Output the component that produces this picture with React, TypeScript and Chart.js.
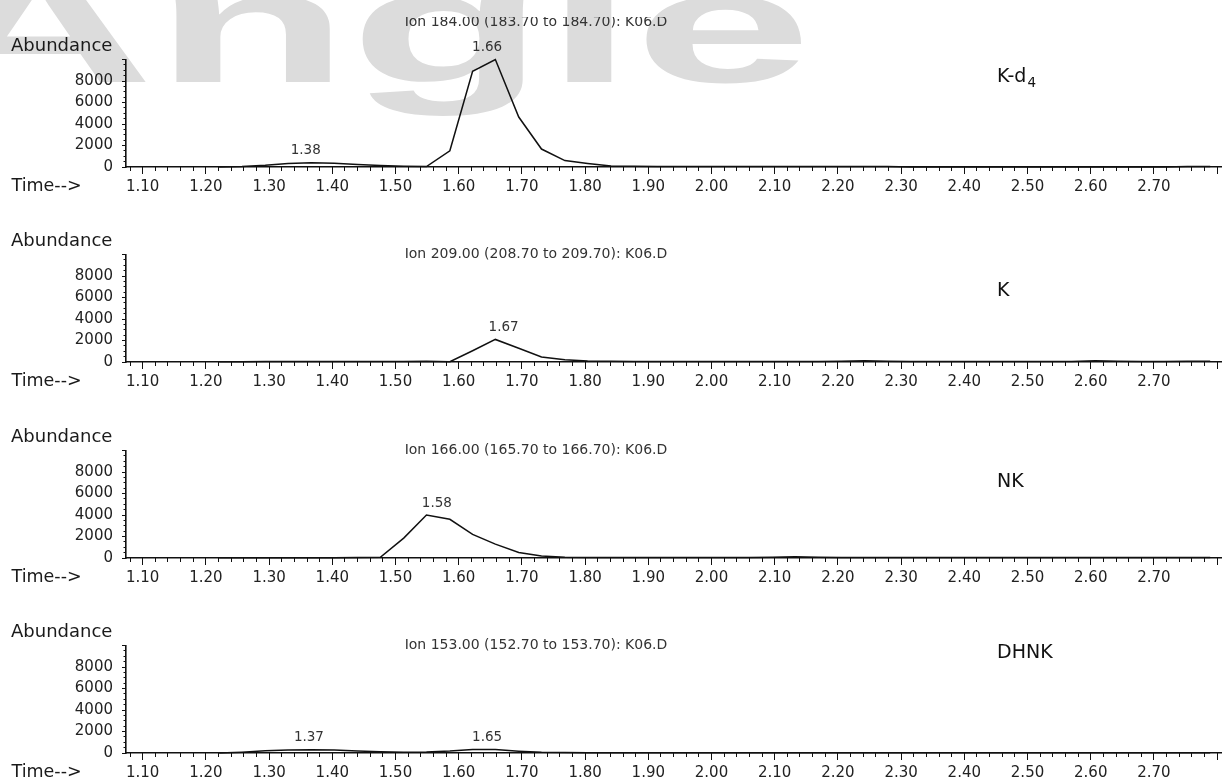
import React, { useEffect, useRef } from "react";
import { Chart, registerables } from "chart.js";
Chart.register(...registerables);

// Retention times (min) of the scans
const times = [
  1.221, 1.257, 1.294, 1.330, 1.367, 1.403, 1.440, 1.476, 1.513, 1.549,
  1.586, 1.622, 1.658, 1.695, 1.731, 1.768, 1.804, 1.841, 1.877, 1.914,
  1.950, 1.987, 2.023, 2.060, 2.096, 2.132, 2.169, 2.205, 2.242, 2.278,
  2.315, 2.351, 2.388, 2.424, 2.461, 2.497, 2.534, 2.570, 2.607, 2.643,
  2.680, 2.716, 2.753, 2.789,
];

// Abundance per ion trace
const ion184 = [
  0, 40, 160, 330, 400, 350, 240, 140, 80, 40,
  1510, 8900, 10000, 4650, 1670, 600, 330, 90, 60, 50,
  50, 45, 45, 40, 40, 40, 40, 40, 40, 35,
  10, 10, 10, 10, 10, 10, 10, 10, 10, 10,
  10, 10, 50, 50,
];
const ion209 = [
  30, 30, 35, 40, 40, 40, 35, 35, 40, 60,
  30, 1050, 2100, 1280, 460, 200, 90, 60, 50, 50,
  45, 45, 40, 40, 40, 40, 40, 60, 110, 60,
  40, 40, 40, 40, 40, 40, 40, 50, 110, 60,
  40, 40, 80, 60,
];
const ion166 = [
  30, 30, 30, 30, 30, 30, 40, 60, 1850, 4000,
  3600, 2200, 1290, 520, 185, 60, 45, 40, 40, 40,
  40, 40, 40, 45, 60, 120, 70, 40, 40, 40,
  40, 40, 40, 40, 40, 40, 40, 40, 40, 40,
  40, 40, 40, 40,
];
const ion153 = [
  0, 80, 200, 280, 310, 270, 180, 110, 80, 100,
  190, 330, 320, 170, 70, 40, 30, 30, 30, 30,
  30, 30, 30, 30, 30, 30, 30, 30, 30, 30,
  30, 30, 30, 30, 30, 30, 30, 30, 30, 30,
  30, 30, 30, 30,
];

// Axis tick labels
const xTickLabels = ["1.10", "1.20", "1.30", "1.40", "1.50", "1.60", "1.70", "1.80", "1.90", "2.00", "2.10", "2.20", "2.30", "2.40", "2.50", "2.60", "2.70"];
const yTickLabels = ["0", "2000", "4000", "6000", "8000"];

// Panel texts
const panelTitles = [
  "Ion 184.00 (183.70 to 184.70): K06.D",
  "Ion 209.00 (208.70 to 209.70): K06.D",
  "Ion 166.00 (165.70 to 166.70): K06.D",
  "Ion 153.00 (152.70 to 153.70): K06.D",
];
const compoundNames = ["K-d", "K", "NK", "DHNK"];
const compoundSubs = ["4", "", "", ""];
const peakLabelTexts = [["1.38", "1.66"], ["1.67"], ["1.58"], ["1.37", "1.65"]];
const peakLabelTimes = [[1.358, 1.645], [1.671], [1.5655], [1.363, 1.645]];

const series = [ion184, ion209, ion166, ion153];

const X_MIN = 1.0736;
const X_MAX = 2.8077;
const Y_MAX = 10000;

const FONT = "'DejaVu Sans', 'Liberation Sans', Arial, sans-serif";
const CANVAS_W = 1222;
const CANVAS_H = 195;
const BASE_IN_CANVAS = 150;
const baselines = [167, 362, 558, 753];
const titleOffsets = [-145, -107.5, -107.5, -107.5];
const nameOffsets = [-90, -71, -76, -100];

function makeTextPlugin(i: number) {
  return {
    id: "panelText" + i,
    afterDraw(chart: any) {
      const ctx = chart.ctx;
      const base = chart.chartArea.bottom;
      ctx.save();
      ctx.textBaseline = "middle";
      // Abundance / Time-->
      ctx.fillStyle = "#1a1a1a";
      ctx.textAlign = "left";
      ctx.font = `18px ${FONT}`;
      ctx.fillText("Abundance", 11, base - 121);
      ctx.font = `17.5px ${FONT}`;
      ctx.fillText("Time-->", 11.5, base + 19);
      // Title
      ctx.fillStyle = "#333";
      ctx.textAlign = "center";
      ctx.font = `14px ${FONT}`;
      ctx.fillText(panelTitles[i], 536, base + titleOffsets[i]);
      // Compound name
      ctx.fillStyle = "#111";
      ctx.textAlign = "left";
      ctx.font = `19px ${FONT}`;
      const ny = base + nameOffsets[i];
      ctx.fillText(compoundNames[i], 997, ny);
      if (compoundSubs[i]) {
        const w = ctx.measureText(compoundNames[i]).width;
        ctx.font = `13.5px ${FONT}`;
        ctx.fillText(compoundSubs[i], 997 + w + 1, ny + 6);
      }
      // Peak labels
      ctx.fillStyle = "#333";
      ctx.textAlign = "center";
      ctx.font = `13.5px ${FONT}`;
      const xs = chart.scales.x;
      const ys = chart.scales.y;
      peakLabelTexts[i].forEach((txt, k) => {
        const t = peakLabelTimes[i][k];
        let peak = 0;
        times.forEach((tt, j) => {
          if (Math.abs(tt - t) <= 0.03) peak = Math.max(peak, series[i][j]);
        });
        ctx.fillText(txt, xs.getPixelForValue(t), ys.getPixelForValue(peak) - 12);
      });
      ctx.restore();
    },
  };
}

function makeChart(canvas: HTMLCanvasElement, i: number) {
  const tickColor = "#111";
  return new Chart(canvas, {
    type: "line",
    data: {
      datasets: [
        {
          data: times.map((t, j) => ({ x: t, y: series[i][j] })),
          borderColor: "#111",
          borderWidth: 1.5,
          pointRadius: 0,
          tension: 0,
          fill: false,
          clip: false as any,
        },
      ],
    },
    options: {
      animation: false,
      responsive: false,
      devicePixelRatio: 1,
      events: [],
      layout: { padding: { top: BASE_IN_CANVAS - 107.5, left: 0, right: 0, bottom: 0 } },
      plugins: { legend: { display: false }, tooltip: { enabled: false }, title: { display: false } },
      scales: {
        x: {
          type: "linear",
          position: "bottom",
          min: X_MIN,
          max: X_MAX,
          afterFit: (s: any) => {
            s.height = CANVAS_H - BASE_IN_CANVAS;
          },
          grid: { display: true, drawOnChartArea: false, drawTicks: true, tickLength: 7, color: tickColor, lineWidth: 1 },
          border: { display: true, color: "#111", width: 1.6 },
          ticks: {
            stepSize: 0.1,
            includeBounds: false,
            autoSkip: false,
            maxRotation: 0,
            padding: 4,
            color: "#222",
            font: { family: FONT, size: 15 },
            callback: (v: any) => {
              const s = Number(v).toFixed(2);
              return xTickLabels.includes(s) ? s : "";
            },
          },
        },
        xm: {
          type: "linear",
          axis: "x",
          position: { y: 0 } as any,
          min: X_MIN,
          max: X_MAX,
          grid: { display: true, drawOnChartArea: false, drawTicks: true, tickLength: 4, color: tickColor, lineWidth: 1 },
          border: { display: false },
          ticks: { display: false, stepSize: 0.02, includeBounds: false, autoSkip: false },
        },
        y: {
          type: "linear",
          position: "left",
          min: 0,
          max: Y_MAX,
          afterFit: (s: any) => {
            s.width = 126;
          },
          grid: { display: true, drawOnChartArea: false, drawTicks: true, tickLength: 4, color: tickColor, lineWidth: 1 },
          border: { display: true, color: "#111", width: 1.6 },
          ticks: {
            stepSize: 2000,
            includeBounds: false,
            autoSkip: false,
            padding: 9,
            color: "#222",
            font: { family: FONT, size: 15 },
            callback: (v: any) => {
              const s = String(Math.round(Number(v)));
              return yTickLabels.includes(s) ? s : "";
            },
          },
        },
        ym: {
          type: "linear",
          axis: "y",
          position: { x: X_MIN } as any,
          min: 0,
          max: Y_MAX,
          grid: { display: true, drawOnChartArea: false, drawTicks: true, tickLength: 2.5, color: tickColor, lineWidth: 1 },
          border: { display: false },
          ticks: { display: false, stepSize: 500, includeBounds: false, autoSkip: false },
        },
      } as any,
    },
    plugins: [makeTextPlugin(i)],
  } as any);
}

function Panel({ index }: { index: number }) {
  const ref = useRef<HTMLCanvasElement>(null);
  useEffect(() => {
    if (!ref.current) return;
    const chart = makeChart(ref.current, index);
    return () => chart.destroy();
  }, [index]);
  return (
    <canvas
      ref={ref}
      width={CANVAS_W}
      height={CANVAS_H}
      style={{
        position: "absolute",
        left: 0,
        top: baselines[index] - BASE_IN_CANVAS,
        width: CANVAS_W,
        height: CANVAS_H,
      }}
    />
  );
}

export default function App() {
  return (
    <div
      style={{
        position: "fixed",
        left: 0,
        top: 0,
        width: 1222,
        height: 782,
        background: "#fff",
        overflow: "hidden",
      }}
    >
      <div
        style={{
          position: "absolute",
          left: -77,
          top: -53.5,
          fontFamily: "'Liberation Sans', Arial, sans-serif",
          fontWeight: "bold",
          fontSize: 160,
          lineHeight: "160px",
          color: "#dcdcdc",
          transform: "scaleX(2)",
          transformOrigin: "0 0",
          whiteSpace: "nowrap",
          userSelect: "none",
        }}
      >
        Angle
      </div>
      {[0, 1, 2, 3].map((i) => (
        <Panel key={i} index={i} />
      ))}
    </div>
  );
}
